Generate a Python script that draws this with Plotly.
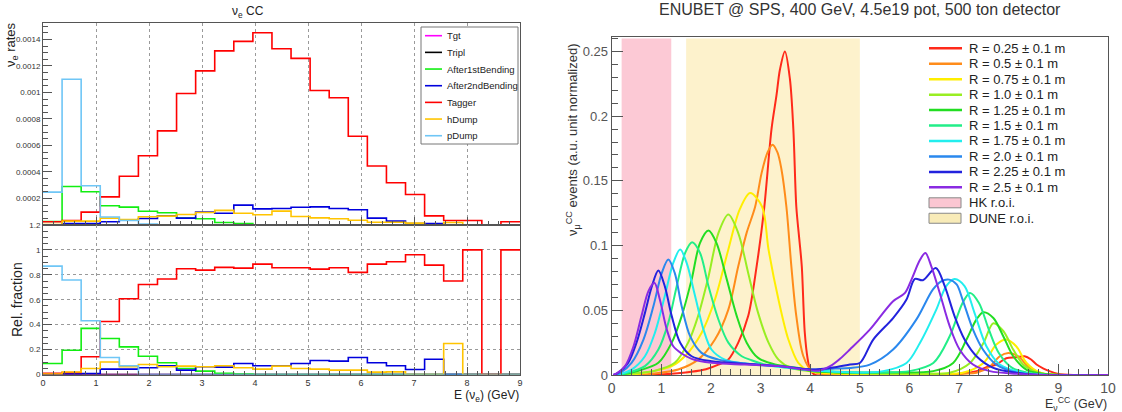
import numpy as np
import plotly.graph_objects as go

W, H = 1122, 412
FONT = "Liberation Sans, Arial, Helvetica, sans-serif"

# ---------------- left panel: nu_e CC by production point ----------------
BIN_EDGES = list(np.round(np.linspace(0.0, 9.0, 26), 2))   # 25 bins of 0.36 GeV
SOURCES = ["Tgt", "Tripl", "After1stBending", "After2ndBending", "Tagger", "hDump", "pDump"]
SOURCE_COLORS = ["#ff00ff", "#000000", "#11ee11", "#0000dd", "#ff0000", "#ffc400", "#6fc6f6"]

RATE_TGT = [0.000002, 0, 0, 0, 0, 0, 0, 0, 0, 0, 0, 0, 0, 0, 0, 0, 0, 0, 0, 0, 0, 0, 0, 0, 0]
RATE_TRIPL = [0, 0, 0, 0, 0, 0, 0, 0, 0, 0, 0, 0, 0, 0, 0, 0, 0, 0, 0, 0, 0, 0, 0, 0, 0]
RATE_AFTER1 = [0.000026, 0.000291, 0.000251, 0.000145, 0.000135, 0.000104, 0.000092, 0.000052,
               0.000047, 0.000019, 0.000011, 0, 0, 0, 0, 0, 0, 0, 0, 0, 0, 0, 0, 0, 0]
RATE_AFTER2 = [0, 0.000011, 0.000011, 0.000024, 0.000039, 0.000049, 0.000069, 0.000052,
               0.000097, 0.000089, 0.00015, 0.000122, 0.000125, 0.000134, 0.000137, 0.000124,
               0.000115, 0.000052, 0.000029, 0.000011, 0.000011, 0, 0, 0, 0]
RATE_TAGGER = [0.000025, 0.000034, 0.000097, 0.000212, 0.000368, 0.000523, 0.00071, 0.000992,
               0.001163, 0.001314, 0.001385, 0.00145, 0.00133, 0.001257, 0.001015, 0.00096,
               0.00067, 0.000445, 0.000319, 0.00023, 0.000069, 0.000034, 0.000034, 0, 0.000024]
RATE_HDUMP = [0.000004, 0.000029, 0.000029, 0.000052, 0.000042, 0.000062, 0.000067, 0.000079,
              0.000094, 0.00011, 0.000089, 0.000077, 0.000105, 0.000064, 0.000054, 0.000047,
              0.000036, 0.000021, 0.000021, 0.000014, 0, 0.000019, 0, 0, 0]
RATE_PDUMP = [0.000248, 0.0011, 0.000296, 0.00006, 0.000034, 0.000007, 0, 0, 0, 0, 0, 0, 0,
              0, 0, 0, 0, 0, 0, 0, 0, 0, 0, 0, 0]

FRAC_TGT = [0.005, 0, 0, 0, 0, 0, 0, 0, 0, 0, 0, 0, 0, 0, 0, 0, 0, 0, 0, 0, 0, 0, 0, 0, 0]
FRAC_TRIPL = [0, 0, 0, 0, 0, 0, 0, 0, 0, 0, 0, 0, 0, 0, 0, 0, 0, 0, 0, 0, 0, 0, 0, 0, 0]
FRAC_AFTER1 = [0.088, 0.195, 0.37, 0.289, 0.222, 0.147, 0.094, 0.048, 0.027, 0.01, 0.004, 0, 0,
               0, 0, 0, 0, 0, 0, 0, 0, 0, 0, 0, 0]
FRAC_AFTER2 = [0, 0.005, 0.008, 0.043, 0.043, 0.054, 0.07, 0.035, 0.062, 0.059, 0.088, 0.07,
               0.07, 0.088, 0.112, 0.107, 0.137, 0.094, 0.07, 0.04, 0.123, 0, 0, 0, 0]
FRAC_TAGGER = [0.01, 0.016, 0.142, 0.426, 0.608, 0.723, 0.766, 0.849, 0.838, 0.86, 0.854, 0.886,
               0.857, 0.857, 0.846, 0.857, 0.82, 0.886, 0.905, 0.961, 0.878, 0.75, 1.0, 0, 1.0]
FRAC_HDUMP = [0.003, 0.02, 0.048, 0.1, 0.062, 0.08, 0.062, 0.067, 0.062, 0.07, 0.054, 0.043,
              0.067, 0.048, 0.043, 0.035, 0.035, 0.019, 0.021, 0, 0, 0.249, 0, 0, 0]
FRAC_PDUMP = [0.87, 0.758, 0.431, 0.137, 0.07, 0, 0, 0, 0, 0, 0, 0, 0, 0, 0, 0, 0, 0, 0, 0, 0,
              0, 0, 0, 0]

RATE_TICKS = [0.0002, 0.0004, 0.0006, 0.0008, 0.001, 0.0012, 0.0014]
RATE_TICK_TEXT = ["0.0002", "0.0004", "0.0006", "0.0008", "0.001", "0.0012", "0.0014"]
FRAC_TICKS = [0, 0.2, 0.4, 0.6, 0.8, 1.0, 1.2]
FRAC_TICK_TEXT = ["0", "0.2", "0.4", "0.6", "0.8", "1", "1.2"]

# ---------------- right panel: ENUBET spectra for radial slices ----------------
R_LABELS = ["R = 0.25 ± 0.1 m", "R = 0.5 ± 0.1 m", "R = 0.75 ± 0.1 m", "R = 1.0 ± 0.1 m",
            "R = 1.25 ± 0.1 m", "R = 1.5 ± 0.1 m", "R = 1.75 ± 0.1 m", "R = 2.0 ± 0.1 m",
            "R = 2.25 ± 0.1 m", "R = 2.5 ± 0.1 m"]
R_COLORS = ["#ff2a1a", "#ff8c1a", "#ffee00", "#99ee22", "#22dd22", "#22ee88", "#22eeee",
            "#2a88ee", "#2222dd", "#8a2be2"]

R025_E = [0.8, 1.2, 1.6, 1.9, 2.15, 2.35, 2.55, 2.75, 2.92, 3.07, 3.22, 3.32, 3.39, 3.49, 3.59,
          3.66, 3.72, 3.78, 3.83, 3.89, 3.95, 4.0, 4.1, 4.3, 5.0, 6.0, 7.0, 7.35, 7.55, 7.75,
          7.95, 8.15, 8.32, 8.45, 8.56, 8.7, 8.82, 8.98, 9.3, 10.0]
R025_Y = [0, 0.001, 0.0025, 0.0045, 0.008, 0.012, 0.025, 0.0455, 0.084, 0.128, 0.19, 0.216,
          0.236, 0.25, 0.229, 0.19, 0.13, 0.105, 0.084, 0.033, 0.012, 0.004, 0.0, 0.0, 0.0005,
          0.0005, 0.001, 0.003, 0.006, 0.0081, 0.013, 0.0137, 0.0145, 0.012, 0.0081, 0.005,
          0.003, 0.001, 0, 0]
R050_E = [0.5, 0.87, 1.34, 1.74, 2.08, 2.35, 2.55, 2.72, 2.89, 3.02, 3.14, 3.24, 3.34, 3.42,
          3.52, 3.62, 3.72, 3.86, 4.03, 4.23, 4.6, 5.5, 6.5, 7.1, 7.35, 7.62, 7.82, 7.99, 8.19,
          8.42, 8.69, 9.0, 10.0]
R050_Y = [0, 0.0012, 0.0042, 0.0119, 0.0274, 0.0505, 0.084, 0.11, 0.13, 0.156, 0.172, 0.178,
          0.172, 0.159, 0.13, 0.084, 0.0455, 0.0147, 0.0033, 0.001, 0.0005, 0.0005, 0.0005,
          0.001, 0.0017, 0.0066, 0.0145, 0.017, 0.0145, 0.0055, 0.001, 0, 0]
R075_E = [0.3, 0.67, 1.21, 1.48, 1.81, 2.08, 2.35, 2.58, 2.79, 3.03, 3.16, 3.36, 3.56, 3.76,
          3.96, 4.16, 4.6, 5.5, 6.5, 7.07, 7.49, 7.75, 7.95, 8.15, 8.36, 8.62, 9.0, 10.0]
R075_Y = [0, 0.0017, 0.0069, 0.0147, 0.0325, 0.0583, 0.097, 0.128, 0.1406, 0.13, 0.097,
          0.0583, 0.0274, 0.0093, 0.0033, 0.002, 0.001, 0.0008, 0.001, 0.0017, 0.0093, 0.0235,
          0.0274, 0.0222, 0.0093, 0.002, 0, 0]
R100_E = [0.1, 0.4, 0.87, 1.27, 1.54, 1.74, 1.95, 2.15, 2.35, 2.55, 2.75, 2.95, 3.16, 3.36,
          3.62, 3.96, 4.5, 5.5, 6.3, 6.81, 7.22, 7.49, 7.69, 7.89, 8.09, 8.29, 8.56, 9.0, 10.0]
R100_Y = [0, 0.001, 0.0033, 0.0094, 0.025, 0.0455, 0.076, 0.1097, 0.124, 0.1097, 0.0789,
          0.048, 0.025, 0.0119, 0.0054, 0.0033, 0.002, 0.001, 0.001, 0.0017, 0.0093, 0.0247,
          0.04, 0.034, 0.0197, 0.0081, 0.002, 0, 0]
R125_E = [0.13, 0.54, 0.94, 1.21, 1.41, 1.61, 1.78, 1.95, 2.11, 2.32, 2.52, 2.72, 2.95, 3.29,
          3.76, 4.03, 4.5, 5.5, 6.48, 6.88, 7.15, 7.35, 7.49, 7.69, 7.89, 8.09, 8.36, 8.7, 9.2,
          10.0]
R125_Y = [0, 0.0033, 0.0094, 0.025, 0.0455, 0.0737, 0.1021, 0.1116, 0.1021, 0.0737, 0.0455,
          0.025, 0.0132, 0.0081, 0.0054, 0.003, 0.002, 0.002, 0.003, 0.0093, 0.0274, 0.043,
          0.0485, 0.0441, 0.03, 0.0145, 0.004, 0.001, 0, 0]
R150_E = [0.1, 0.27, 0.67, 0.94, 1.14, 1.31, 1.48, 1.62, 1.78, 1.95, 2.15, 2.35, 2.62, 2.82,
          3.09, 3.56, 4.03, 4.5, 5.5, 6.0, 6.48, 6.81, 7.07, 7.22, 7.4, 7.6, 7.8, 8.07, 8.4, 8.8,
          10.0]
R150_Y = [0, 0.0012, 0.0069, 0.0197, 0.0403, 0.0686, 0.0943, 0.1025, 0.0943, 0.0686, 0.0429,
          0.025, 0.0145, 0.0114, 0.0081, 0.0054, 0.0036, 0.0025, 0.002, 0.003, 0.0093, 0.0299,
          0.0557, 0.0634, 0.0557, 0.035, 0.017, 0.0055, 0.0017, 0, 0]
R175_E = [0.05, 0.13, 0.4, 0.67, 0.87, 1.07, 1.24, 1.38, 1.51, 1.68, 1.85, 2.01, 2.28, 2.68,
          3.22, 3.76, 4.03, 4.5, 5.0, 5.47, 5.94, 6.21, 6.54, 6.74, 6.91, 7.11, 7.31, 7.55,
          7.82, 8.29, 8.8, 10.0]
R175_Y = [0, 0.0005, 0.0042, 0.0145, 0.0325, 0.061, 0.0866, 0.0969, 0.0866, 0.061, 0.0351,
          0.0197, 0.0119, 0.0089, 0.0069, 0.0048, 0.0036, 0.0025, 0.002, 0.003, 0.0093, 0.0247,
          0.0505, 0.0687, 0.0742, 0.0687, 0.048, 0.0222, 0.0081, 0.0017, 0, 0]
R200_E = [0.05, 0.17, 0.4, 0.64, 0.84, 1.01, 1.14, 1.27, 1.41, 1.58, 1.81, 2.15, 2.68, 3.36,
          4.03, 4.5, 4.8, 5.2, 5.67, 6.14, 6.47, 6.64, 6.8, 6.95, 7.07, 7.28, 7.48, 7.75, 8.15,
          8.6, 10.0]
R200_Y = [0, 0.0017, 0.0094, 0.0274, 0.0531, 0.0789, 0.0892, 0.0789, 0.0531, 0.03, 0.0171,
          0.0119, 0.0089, 0.0069, 0.0042, 0.005, 0.0054, 0.008, 0.0197, 0.043, 0.066, 0.0724,
          0.0737, 0.07, 0.0583, 0.0351, 0.0197, 0.008, 0.002, 0, 0]
R225_E = [0.03, 0.13, 0.33, 0.5, 0.67, 0.81, 0.94, 1.07, 1.21, 1.38, 1.61, 2.01, 2.68, 3.36,
          4.03, 4.5, 4.8, 5.0, 5.27, 5.67, 5.94, 6.11, 6.27, 6.53, 6.71, 6.91, 7.11, 7.35, 7.69,
          8.15, 8.6, 10.0]
R225_Y = [0, 0.0017, 0.0094, 0.025, 0.048, 0.0686, 0.0807, 0.0686, 0.0455, 0.025, 0.0145,
          0.0106, 0.0086, 0.0069, 0.0042, 0.006, 0.0081, 0.0093, 0.0274, 0.044, 0.0583, 0.0742,
          0.0732, 0.0827, 0.0687, 0.0453, 0.0274, 0.0145, 0.0055, 0.0017, 0, 0]
R250_E = [0.03, 0.1, 0.27, 0.44, 0.6, 0.74, 0.86, 0.97, 1.11, 1.24, 1.41, 1.61, 2.01, 2.68,
          3.36, 3.89, 4.16, 4.4, 4.6, 4.8, 5.2, 5.67, 5.91, 6.04, 6.21, 6.32, 6.44, 6.61, 6.81,
          7.01, 7.28, 7.62, 8.15, 8.8, 10.0]
R250_Y = [0, 0.0012, 0.0069, 0.0222, 0.0455, 0.0648, 0.0712, 0.0583, 0.0351, 0.0222, 0.0166,
          0.0125, 0.0094, 0.0081, 0.0069, 0.0042, 0.0033, 0.0068, 0.0125, 0.0197, 0.035, 0.057,
          0.0634, 0.0737, 0.0888, 0.0943, 0.084, 0.0634, 0.0377, 0.0197, 0.0081, 0.003, 0.001,
          0, 0]

ROI_LABELS = ["HK r.o.i.", "DUNE r.o.i."]
ROI_RANGES = [(0.2, 1.2), (1.5, 5.0)]
ROI_COLORS = ["#fcc9d5", "#fdf2cc"]
ROI_LEGEND_COLORS = ["#fbc6d2", "#f8ebb8"]
ROI_TOP = 0.26

CURVES_E = [R025_E, R050_E, R075_E, R100_E, R125_E, R150_E, R175_E, R200_E, R225_E, R250_E]
CURVES_Y = [R025_Y, R050_Y, R075_Y, R100_Y, R125_Y, R150_Y, R175_Y, R200_Y, R225_Y, R250_Y]


def px(x):
    return x / W


def py(y):
    return 1 - y / H


fig = go.Figure()

rates = [RATE_TGT, RATE_TRIPL, RATE_AFTER1, RATE_AFTER2, RATE_TAGGER, RATE_HDUMP, RATE_PDUMP]
fracs = [FRAC_TGT, FRAC_TRIPL, FRAC_AFTER1, FRAC_AFTER2, FRAC_TAGGER, FRAC_HDUMP, FRAC_PDUMP]
for name, col, r, f in zip(SOURCES, SOURCE_COLORS, rates, fracs):
    fig.add_trace(go.Scatter(x=BIN_EDGES, y=list(r) + [r[-1]], mode="lines", line_shape="hv",
                             line=dict(color=col, width=1.6), name=name, showlegend=False,
                             xaxis="x", yaxis="y", cliponaxis=True))
    fig.add_trace(go.Scatter(x=BIN_EDGES, y=list(f) + [f[-1]], mode="lines", line_shape="hv",
                             line=dict(color=col, width=1.6), name=name, showlegend=False,
                             xaxis="x2", yaxis="y2", cliponaxis=True))

# regions of interest (right panel)
for lab, (a, b), col in zip(ROI_LABELS, ROI_RANGES, ROI_COLORS):
    fig.add_trace(go.Scatter(x=[a, b, b, a, a], y=[0, 0, ROI_TOP, ROI_TOP, 0], fill="toself",
                             fillcolor=col, line=dict(width=0), mode="lines", name=lab,
                             showlegend=False, hoverinfo="skip", xaxis="x3", yaxis="y3"))

for lab, col, e, y in zip(R_LABELS, R_COLORS, CURVES_E, CURVES_Y):
    fig.add_trace(go.Scatter(x=e, y=y, mode="lines", line=dict(color=col, width=2, shape="spline",
                             smoothing=0.9), name=lab, showlegend=False,
                             xaxis="x3", yaxis="y3"))

axis_common = dict(showline=True, mirror=True, linecolor="#555555", linewidth=1, zeroline=False,
                   ticks="inside", tickcolor="#555555", automargin=False)
LEFT_X = [px(43), px(520)]
grid_dot = dict(showgrid=True, gridcolor="#9a9a9a", griddash="dot", gridwidth=1)

fig.update_layout(
    width=W, height=H, margin=dict(l=0, r=0, t=0, b=0, autoexpand=False),
    paper_bgcolor="white", plot_bgcolor="rgba(0,0,0,0)",
    font=dict(family=FONT, color="#222222"),
    showlegend=False,
    xaxis=dict(domain=LEFT_X, anchor="y", range=[0, 9], tick0=0, dtick=1, ticklen=8,
               showticklabels=False,
               minor=dict(ticks="inside", ticklen=4, tick0=0, dtick=0.2, tickcolor="#555555",
                          showgrid=False),
               **grid_dot, **axis_common),
    yaxis=dict(domain=[py(225), py(23)], anchor="x", range=[0, 0.001524], tickmode="array",
               tickvals=RATE_TICKS, ticktext=RATE_TICK_TEXT, ticklen=9, showgrid=False,
               tickfont=dict(size=8, color="#333333"),
               minor=dict(ticks="inside", ticklen=5, tickmode="linear", tick0=0, dtick=0.00005,
                          tickcolor="#555555", showgrid=False),
               **axis_common),
    xaxis2=dict(domain=LEFT_X, anchor="y2", range=[0, 9], tick0=0, dtick=1, ticklen=8,
                tickfont=dict(size=9, color="#333333"),
                minor=dict(ticks="inside", ticklen=4, tick0=0, dtick=0.2, tickcolor="#555555",
                           showgrid=False),
                **grid_dot, **axis_common),
    yaxis2=dict(domain=[py(374.5), py(225)], anchor="x2", range=[0, 1.2], tickmode="array",
                tickvals=FRAC_TICKS, ticktext=FRAC_TICK_TEXT, ticklen=9,
                tickfont=dict(size=8, color="#333333"),
                minor=dict(ticks="inside", ticklen=5, tickmode="linear", tick0=0, dtick=0.05,
                           tickcolor="#555555", showgrid=False),
                **grid_dot, **axis_common),
    xaxis3=dict(domain=[px(611.7), px(1108)], anchor="y3", range=[0, 10], tick0=0, dtick=1,
                ticklen=11, showgrid=False, tickfont=dict(size=14, color="#555555"),
                minor=dict(ticks="inside", ticklen=6, tick0=0, dtick=0.2, tickcolor="#555555",
                           showgrid=False),
                **axis_common),
    yaxis3=dict(domain=[py(375), py(36.7)], anchor="x3", range=[0, 0.2614], tick0=0, dtick=0.05,
                ticklen=11, showgrid=False, tickfont=dict(size=13, color="#555555"),
                minor=dict(ticks="inside", ticklen=6, tick0=0, dtick=0.01, tickcolor="#555555",
                           showgrid=False),
                **axis_common),
)

shapes = []
annotations = []

# left legend (ROOT-style box)
shapes.append(dict(type="rect", xref="paper", yref="paper", x0=px(421), x1=px(518), y0=py(144),
                   y1=py(27), line=dict(color="#777777", width=1), fillcolor="white",
                   layer="above"))
for i, (name, col) in enumerate(zip(SOURCES, SOURCE_COLORS)):
    yc = 35.7 + i * 16.67
    shapes.append(dict(type="line", xref="paper", yref="paper", x0=px(425), x1=px(442),
                       y0=py(yc), y1=py(yc), line=dict(color=col, width=1.6), layer="above"))
    annotations.append(dict(text=name, xref="paper", yref="paper", x=px(445), y=py(yc),
                            xanchor="left", yanchor="middle", showarrow=False,
                            font=dict(size=9.5, color="#222222")))

# right legend
for i, (lab, col) in enumerate(zip(R_LABELS, R_COLORS)):
    yc = 48.3 + i * 15.45
    shapes.append(dict(type="line", xref="paper", yref="paper", x0=px(929), x1=px(962),
                       y0=py(yc), y1=py(yc), line=dict(color=col, width=2.5), layer="above"))
    annotations.append(dict(text=lab, xref="paper", yref="paper", x=px(967), y=py(yc),
                            xanchor="left", yanchor="middle", showarrow=False,
                            font=dict(size=13, color="#222222")))
for j, (lab, col) in enumerate(zip(ROI_LABELS, ROI_LEGEND_COLORS)):
    yc = 202.8 + j * 15.45
    shapes.append(dict(type="rect", xref="paper", yref="paper", x0=px(929), x1=px(961),
                       y0=py(yc + 5), y1=py(yc - 5), line=dict(color="#888888", width=1),
                       fillcolor=col, layer="above"))
    annotations.append(dict(text=lab, xref="paper", yref="paper", x=px(967), y=py(yc),
                            xanchor="left", yanchor="middle", showarrow=False,
                            font=dict(size=13, color="#222222")))

# titles and axis titles
annotations += [
    dict(text="ν<sub>e</sub> CC", xref="paper", yref="paper", x=px(248), y=py(12),
         xanchor="center", yanchor="middle", showarrow=False, font=dict(size=12, color="#222")),
    dict(text="ν<sub>e</sub> rates", xref="paper", yref="paper", x=px(12), y=py(45),
         xanchor="center", yanchor="middle", textangle=-90, showarrow=False,
         font=dict(size=13, color="#222")),
    dict(text="Rel. fraction", xref="paper", yref="paper", x=px(17), y=py(300),
         xanchor="center", yanchor="middle", textangle=-90, showarrow=False,
         font=dict(size=14, color="#222")),
    dict(text="E (ν<sub>e</sub>) (GeV)", xref="paper", yref="paper", x=px(521), y=py(396),
         xanchor="right", yanchor="middle", showarrow=False, font=dict(size=12, color="#222")),
    dict(text="ENUBET @ SPS, 400 GeV, 4.5e19 pot, 500 ton detector", xref="paper",
         yref="paper", x=px(860), y=py(10), xanchor="center", yanchor="middle",
         showarrow=False, font=dict(size=16, color="#333")),
    dict(text="ν<sub>μ</sub><sup>CC</sup> events (a.u. unit normalized)", xref="paper",
         yref="paper", x=px(573), y=py(140), xanchor="center", yanchor="middle",
         textangle=-90, showarrow=False, font=dict(size=13, color="#333")),
    dict(text="E<sub>ν</sub><sup>CC</sup> (GeV)", xref="paper", yref="paper", x=px(1109),
         y=py(404), xanchor="right", yanchor="middle", showarrow=False,
         font=dict(size=12.5, color="#333")),
]

fig.update_layout(shapes=shapes, annotations=annotations)
fig.write_html("out.html", config={"displayModeBar": False},
               post_script="document.body.style.margin='0';document.body.style.padding='0';")
